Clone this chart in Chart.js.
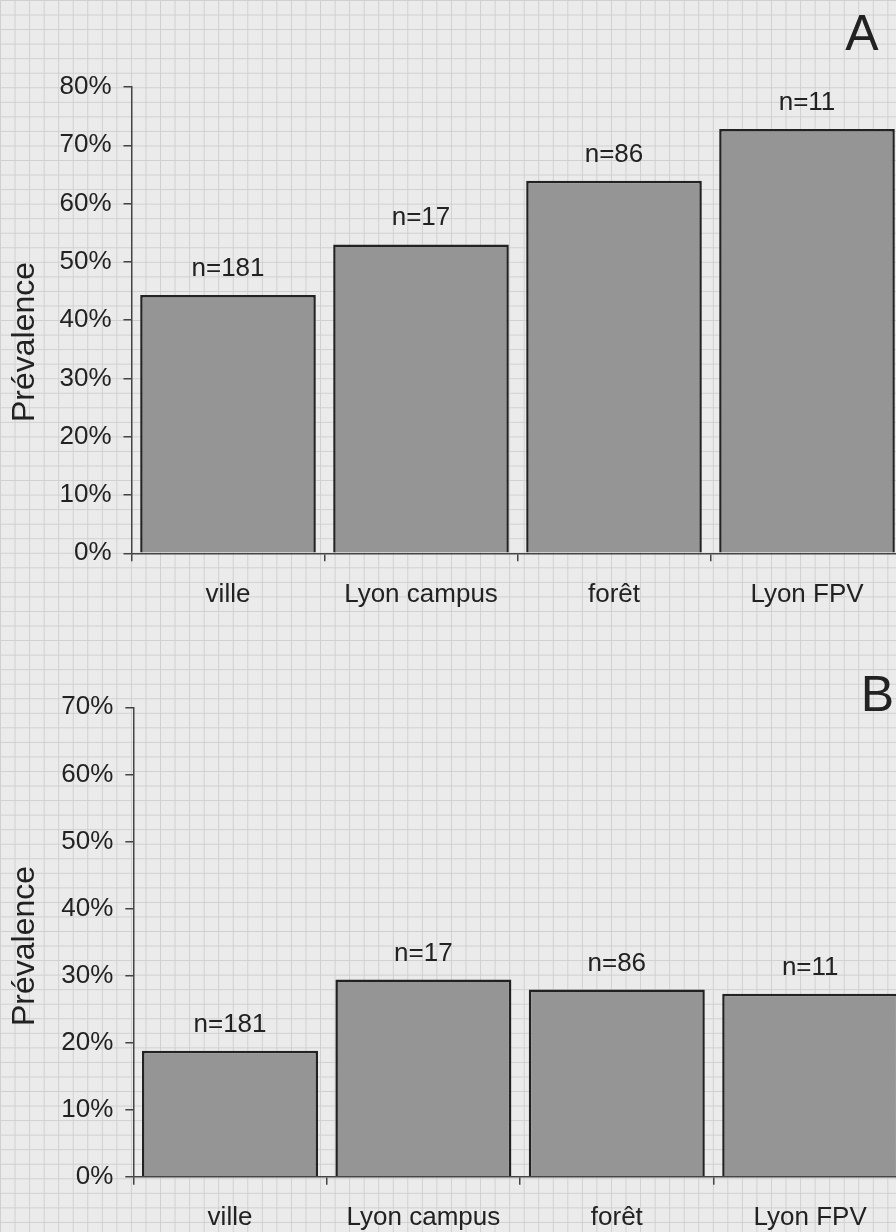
<!DOCTYPE html>
<html>
<head>
<meta charset="utf-8">
<script src="https://cdn.jsdelivr.net/npm/chart.js@4"></script>
<style>
  html, body {
    margin: 0;
    padding: 0;
    width: 896px;
    height: 1232px;
    overflow: hidden;
    background-color: #ebebeb;
    background-image:
      linear-gradient(#d0d0d0 1px, transparent 1px),
      linear-gradient(90deg, #d0d0d0 1px, transparent 1px);
    background-size: 14.55px 14.55px;
  }
  .box { position: absolute; left: 0; }
  canvas { display: block; }
</style>
</head>
<body>
<div class="box" style="top:0"><canvas id="chartA" width="920" height="620"></canvas></div>
<div class="box" style="top:630px"><canvas id="chartB" width="920" height="602"></canvas></div>
<script>
const sites = ['ville', 'Lyon campus', 'forêt', 'Lyon FPV'];
const counts = [181, 17, 86, 11];
const prevalenceA = [44.3, 53.0, 63.9, 72.8];
const prevalenceB = [18.8, 29.4, 27.9, 27.3];
const maxA = 80;
const maxB = 70;

const FONT = '"Liberation Sans", Arial, sans-serif';
const TEXT = '#222';
const AXIS = '#444';

// draws the n=... above each bar, the y title and the panel letter
function extraText(letter, lx, ly, titleY) {
    return {
        id: 'extraText',
        afterDatasetsDraw(chart) {
            const ctx = chart.ctx;
            const bars = chart.getDatasetMeta(0).data;
            ctx.save();
            ctx.fillStyle = TEXT;
            ctx.textAlign = 'center';
            ctx.textBaseline = 'alphabetic';
            ctx.font = '26px ' + FONT;
            for (let i = 0; i < bars.length; i++) {
                ctx.fillText('n=' + counts[i], bars[i].x, bars[i].y - 19);
            }
            ctx.font = '50px ' + FONT;
            ctx.fillText(letter, lx, ly);

            ctx.translate(25, titleY);
            ctx.rotate(-Math.PI / 2);
            ctx.textBaseline = 'middle';
            ctx.font = '32px ' + FONT;
            ctx.fillText('Prévalence', 0, 0);
            ctx.restore();
        }
    };
}

function makeChart(id, values, yMax, yWidth, xHeight, padTop, padRight, letter, lx, ly, titleY) {
    return new Chart(id, {
        type: 'bar',
        data: {
            labels: sites,
            datasets: [{
                data: values,
                backgroundColor: '#959595',
                borderColor: '#222',
                borderWidth: 2.5,
                barPercentage: 0.91,
                categoryPercentage: 1
            }]
        },
        options: {
            responsive: false,
            animation: false,
            layout: { padding: { top: padTop, right: padRight, bottom: 0, left: 0 } },
            plugins: {
                legend: { display: false },
                tooltip: { enabled: false }
            },
            scales: {
                x: {
                    afterFit(scale) { scale.height = xHeight; },
                    grid: {
                        drawOnChartArea: false,
                        drawTicks: true,
                        tickLength: 8,
                        color: AXIS,
                        lineWidth: 1.5
                    },
                    border: { display: true, color: AXIS, width: 1.5 },
                    ticks: {
                        color: TEXT,
                        padding: 18,
                        maxRotation: 0,
                        font: { size: 26, family: FONT }
                    }
                },
                y: {
                    min: 0,
                    max: yMax,
                    afterFit(scale) { scale.width = yWidth; },
                    grid: {
                        drawOnChartArea: false,
                        drawTicks: true,
                        tickLength: 8,
                        color: AXIS,
                        lineWidth: 1.5
                    },
                    border: { display: true, color: AXIS, width: 1.5 },
                    ticks: {
                        stepSize: 10,
                        color: TEXT,
                        padding: 12,
                        font: { size: 26, family: FONT },
                        callback: function (v) { return v + '%'; }
                    }
                }
            }
        },
        plugins: [extraText(letter, lx, ly, titleY)]
    });
}

makeChart('chartA', prevalenceA, maxA, 131.5, 66.7, 87, 16.5, 'A', 862, 50, 342);
makeChart('chartB', prevalenceB, maxB, 133.3, 55.3, 77.3, 13.1, 'B', 877.5, 80.7, 316);
</script>
</body>
</html>
